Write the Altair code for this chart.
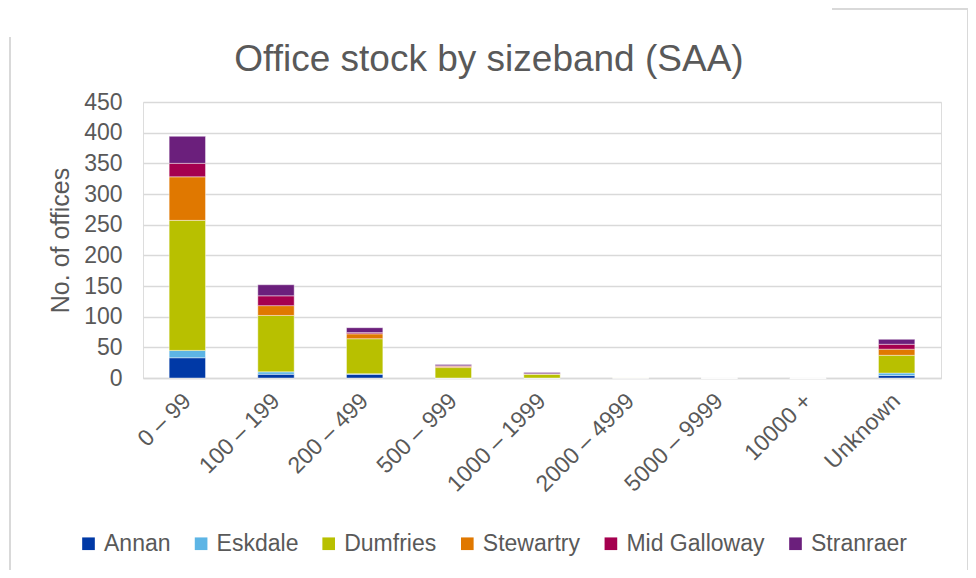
import altair as alt
import pandas as pd

categories = ["0 – 99", "100 – 199", "200 – 499", "500 – 999", "1000 – 1999",
              "2000 – 4999", "5000 – 9999", "10000 +", "Unknown"]
series = ["Annan", "Eskdale", "Dumfries", "Stewartry", "Mid Galloway", "Stranraer"]
colors = ["#0039A6", "#5DB5E5", "#B8C000", "#E07800", "#A5004F", "#6B1F7C"]

annan = [33, 6, 6, 0, 0, 0, 0, 0, 4]
eskdale = [12, 4, 1, 0, 0, 0, 0, 0, 4]
dumfries = [212, 92, 57, 17, 6, 1, 0, 0, 29]
stewartry = [71, 16, 8, 2, 1, 0, 0, 0, 10]
mid_galloway = [22, 16, 2, 1, 0, 0, 0, 0, 8]
stranraer = [44, 18, 8, 2, 2, 0, 0, 0, 8]

values = [annan, eskdale, dumfries, stewartry, mid_galloway, stranraer]
rows = []
for si, (name, vals) in enumerate(zip(series, values)):
    for cat, v in zip(categories, vals):
        rows.append({"sizeband": cat, "area": name, "offices": v, "order": si})
df = pd.DataFrame(rows)

FONT = "Liberation Sans"
GRAY = "#595959"
GRID = "#d9d9d9"

bars = alt.Chart(df).mark_bar(stroke="white", strokeWidth=0.6, strokeOpacity=0.7).encode(
    x=alt.X("sizeband:N", sort=categories,
            scale=alt.Scale(paddingInner=0.59, paddingOuter=0.295),
            axis=alt.Axis(title=None, labelAngle=-45, labelAlign="right",
                          labelBaseline="middle", labelPadding=19, ticks=False,
                          domain=True, domainColor=GRID, domainWidth=1.5,
                          labelFont=FONT, labelFontSize=23, labelColor=GRAY)),
    y=alt.Y("sum(offices):Q", stack="zero",
            scale=alt.Scale(domain=[0, 450]),
            axis=alt.Axis(title="No. of offices", values=list(range(0, 451, 50)),
                          ticks=False, domain=False, labelPadding=21,
                          gridColor=GRID, gridWidth=1.5,
                          labelFont=FONT, labelFontSize=23, labelColor=GRAY,
                          titleFont=FONT, titleFontSize=25, titleColor=GRAY,
                          titleFontWeight="normal", titleX=-83, titleY=138,
                          titleAngle=-90, titleAlign="center", titleBaseline="middle")),
    color=alt.Color("area:N", sort=series,
                    scale=alt.Scale(domain=series, range=colors),
                    legend=alt.Legend(title=None, orient="none", direction="horizontal",
                                      legendX=-66, legendY=430, symbolType="square",
                                      symbolSize=160, symbolStrokeWidth=0,
                                      labelFont=FONT, labelFontSize=23, labelColor=GRAY,
                                      columnPadding=18.6, labelOffset=4, padding=0)),
    order=alt.Order("order:Q", sort="ascending"),
)

frame_color = "#d9d9d9"
left_line = alt.Chart(df).mark_rule(color=frame_color, strokeWidth=1.5).encode(
    x=alt.value(-133), y=alt.value(-65), y2=alt.value(476))
top_line = alt.Chart(df).mark_rule(color=frame_color, strokeWidth=1.5).encode(
    x=alt.value(689), x2=alt.value(825), y=alt.value(-93))
right_line = alt.Chart(df).mark_rule(color=frame_color, strokeWidth=1.5).encode(
    x=alt.value(825), y=alt.value(-93), y2=alt.value(476))

chart = alt.layer(bars, left_line, top_line, right_line).properties(
    width=798, height=276,
    autosize=alt.AutoSizeParams(type="none"),
    padding={"left": 135, "top": 94, "right": 27, "bottom": 192},
    title=alt.TitleParams("Office stock by sizeband (SAA)", font=FONT, fontSize=37,
                          fontWeight="normal", color=GRAY, anchor="middle",
                          frame="group", dx=-53, offset=0, dy=100, baseline="alphabetic"),
).configure_view(stroke=None).configure(background="white")

chart.save("out.html", embed_options={"renderer": "svg", "actions": False})
